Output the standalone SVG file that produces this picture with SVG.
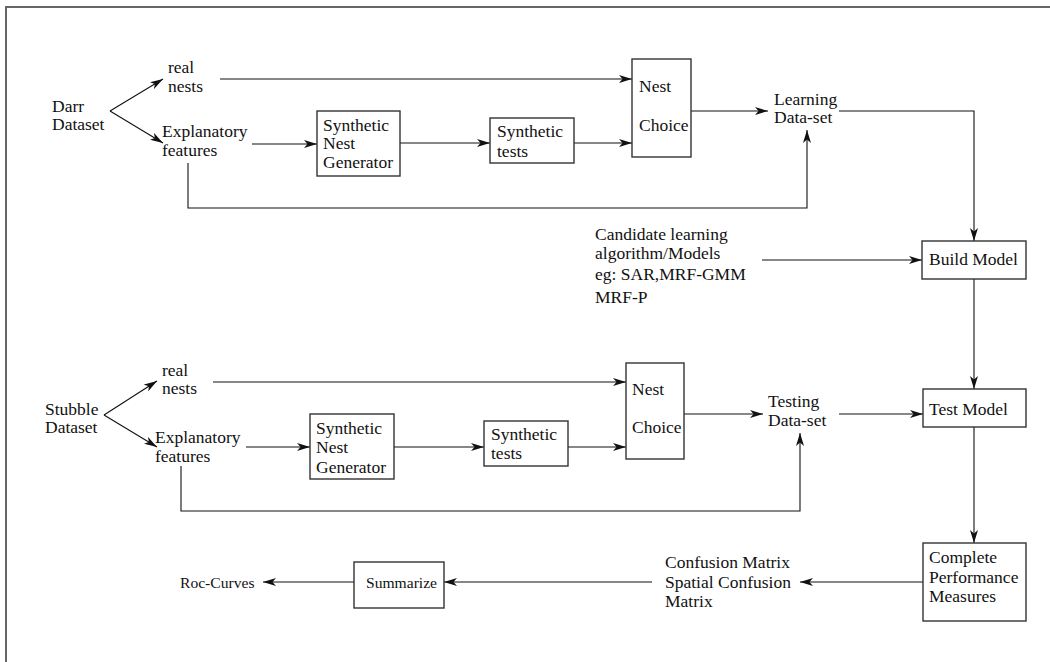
<svg xmlns="http://www.w3.org/2000/svg" width="1050" height="662" viewBox="0 0 1050 662">
<style>
text{font-family:"Liberation Serif","Times New Roman",serif;font-size:17.5px;fill:#111}
.sm{font-size:15.6px}
.box{fill:#fff;stroke:#333;stroke-width:1.4}
.c{fill:none;stroke:#111;stroke-width:1.1}
.a{marker-end:url(#ah)}
</style>
<defs>
<marker id="ah" viewBox="0 0 13 8" refX="13" refY="4" markerWidth="13" markerHeight="8" markerUnits="userSpaceOnUse" orient="auto">
<path d="M0,0 L13,4 L0,8 L3.5,4 z" fill="#111"/>
</marker>
</defs>
<rect width="1050" height="662" fill="#fff"/>
<path d="M6,662 V7 H1050" fill="none" stroke="#666" stroke-width="2"/>
<g id="connectors">
<path class="c a" d="M110,111 L163,79"/>
<path class="c a" d="M110,111 L163,143"/>
<path class="c a" d="M220,79 H632"/>
<path class="c a" d="M252,144 H317"/>
<path class="c a" d="M400,143 H490"/>
<path class="c a" d="M574,143 H632"/>
<path class="c a" d="M691,111 H768"/>
<path class="c a" d="M188,163 V208 H807 V130"/>
<path class="c a" d="M839,111 H974 V241"/>
<path class="c a" d="M762,260 H922"/>
<path class="c a" d="M974,279 V389"/>
<path class="c a" d="M974,427 V543"/>
<path class="c a" d="M923,582 H800"/>
<path class="c a" d="M652,582 H444"/>
<path class="c a" d="M354,582 H263"/>
<path class="c a" d="M104,415 L157,381"/>
<path class="c a" d="M104,415 L157,447"/>
<path class="c a" d="M213,382 H626"/>
<path class="c a" d="M246,447 H310"/>
<path class="c a" d="M394,447 H484"/>
<path class="c a" d="M568,447 H626"/>
<path class="c a" d="M684,414 H763"/>
<path class="c a" d="M839,414 H923"/>
<path class="c a" d="M181,466 V511 H800 V433"/>
</g>
<g id="darr"><text x="52" y="112">Darr</text><text x="52" y="130">Dataset</text></g>
<g id="realnests1"><text x="168" y="73">real</text><text x="168" y="92">nests</text></g>
<g id="expl1"><text x="162" y="137">Explanatory</text><text x="162" y="156">features</text></g>
<g id="sng1"><rect class="box" x="317" y="111" width="83" height="65"/><text x="323" y="131">Synthetic</text><text x="323" y="149">Nest</text><text x="323" y="168">Generator</text></g>
<g id="st1"><rect class="box" x="490" y="118" width="84" height="45"/><text x="497" y="137">Synthetic</text><text x="497" y="157">tests</text></g>
<g id="nc1"><rect class="box" x="632" y="59" width="59" height="98"/><text x="639" y="92">Nest</text><text x="639" y="131">Choice</text></g>
<g id="learning"><text x="774" y="105">Learning</text><text x="774" y="123">Data-set</text></g>
<g id="candidate"><text x="595" y="240">Candidate learning</text><text x="595" y="259">algorithm/Models</text><text x="595" y="280">eg: SAR,MRF-GMM</text><text x="595" y="303">MRF-P</text></g>
<g id="build"><rect class="box" x="922" y="241" width="104" height="38"/><text x="929" y="265">Build Model</text></g>
<g id="stubble"><text x="45" y="415">Stubble</text><text x="45" y="433">Dataset</text></g>
<g id="realnests2"><text x="162" y="376">real</text><text x="162" y="394">nests</text></g>
<g id="expl2"><text x="155" y="443">Explanatory</text><text x="155" y="462">features</text></g>
<g id="sng2"><rect class="box" x="310" y="414" width="84" height="65"/><text x="316" y="434">Synthetic</text><text x="316" y="453">Nest</text><text x="316" y="473">Generator</text></g>
<g id="st2"><rect class="box" x="484" y="421" width="84" height="45"/><text x="491" y="440">Synthetic</text><text x="491" y="459">tests</text></g>
<g id="nc2"><rect class="box" x="626" y="363" width="58" height="96"/><text x="632" y="395">Nest</text><text x="632" y="433">Choice</text></g>
<g id="testing"><text x="768" y="407">Testing</text><text x="768" y="426">Data-set</text></g>
<g id="test"><rect class="box" x="923" y="389" width="103" height="38"/><text x="929" y="415">Test Model</text></g>
<g id="cpm"><rect class="box" x="923" y="543" width="103" height="78"/><text x="929" y="563">Complete</text><text x="929" y="583">Performance</text><text x="929" y="602">Measures</text></g>
<g id="confusion"><text x="665" y="568">Confusion Matrix</text><text x="665" y="588">Spatial Confusion</text><text x="665" y="607">Matrix</text></g>
<g id="summarize"><rect class="box" x="354" y="562" width="90" height="46"/><text class="sm" x="366" y="588">Summarize</text></g>
<g id="roc"><text class="sm" x="180" y="588">Roc-Curves</text></g>
</svg>
